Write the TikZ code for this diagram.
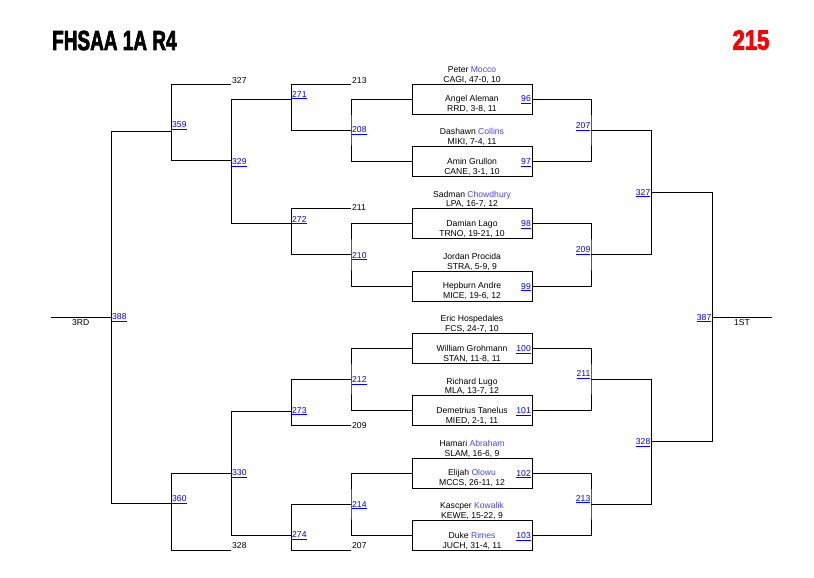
\documentclass[tikz,border=0pt]{standalone}
\usepackage{fontspec}
\setmainfont{Liberation Sans}
\newfontfamily\titlefont[UprightFont={* Bold},UprightFeatures={FakeBold=3}]{Liberation Sans}
\definecolor{linkblue}{RGB}{0,0,255}
\definecolor{nameblue}{RGB}{70,70,255}
\definecolor{titlered}{RGB}{255,0,0}
\newcommand\bl[1]{\textcolor{nameblue}{#1}}
\newcommand\bout[7]{%
  \node[box] (b#1) at (472,#2) {};
  \node[wtxt] (b#1ta) at (472,#2-26.5) {#3};
  \node[wtxt] (b#1tb) at (472,#2-16.8) {#4};
  \node[wtxt] (b#1ba) at (472,#2+2.8) {#5};
  \node[wtxt] (b#1bb) at (472,#2+12.8) {#6};
  \node[lnk,anchor=base east] (l#7) at (531,#2+3) {\underline{#7}};
}
\newcommand\lnkL[3]{\node[lnk,anchor=base west] (l#1) at (#2,#3+3) {\underline{#1}};}
\newcommand\lnkR[3]{\node[lnk,anchor=base east] (l#1) at (#2,#3+3) {\underline{#1}};}
\newcommand\plainL[4]{\node[num,anchor=base west] (#1) at (#2,#3+3) {#4};}
\tikzset{
  ln/.style={line width=0.9pt},
  box/.style={draw,line width=0.9pt,minimum width=120pt,minimum height=30pt,inner sep=0pt},
  wtxt/.style={font=\fontsize{8.6}{10}\selectfont,inner sep=0pt,anchor=base},
  num/.style={font=\fontsize{8.6}{10}\selectfont,inner sep=0pt},
  lnk/.style={num,text=linkblue},
}
\begin{document}
\begin{tikzpicture}[x=1pt,y=-1pt]
\fill[white] (0,0) rectangle (814,578);
\useasboundingbox (0,0) rectangle (814,578);

% title
\node[anchor=base west,inner sep=0pt,font=\titlefont\fontsize{27.5}{27.5}\selectfont] (title) at (52,50) {\scalebox{0.69}[1]{FHSAA 1A R4}};
\node[anchor=base east,inner sep=0pt,text=titlered,font=\titlefont\fontsize{27.5}{27.5}\selectfont] (weight) at (769.5,49.5) {\scalebox{0.80}[1]{215}};

% bouts
\bout{1}{99}{Peter \bl{Mocco}}{CAGI, 47-0, 10}{Angel Aleman}{RRD, 3-8, 11}{96}
\bout{2}{161.3}{Dashawn \bl{Collins}}{MIKI, 7-4, 11}{Amin Grullon}{CANE, 3-1, 10}{97}
\bout{3}{223.7}{Sadman \bl{Chowdhury}}{LPA, 16-7, 12}{Damian Lago}{TRNO, 19-21, 10}{98}
\bout{4}{286}{Jordan Procida}{STRA, 5-9, 9}{Hepburn Andre}{MICE, 19-6, 12}{99}
\bout{5}{348.3}{Eric Hospedales}{FCS, 24-7, 10}{William Grohmann}{STAN, 11-8, 11}{100}
\bout{6}{410.7}{Richard Lugo}{MLA, 13-7, 12}{Demetrius Tanelus}{MIED, 2-1, 11}{101}
\bout{7}{473}{Hamari \bl{Abraham}}{SLAM, 16-6, 9}{Elijah \bl{Olowu}}{MCCS, 26-11, 12}{102}
\bout{8}{535.3}{Kascper \bl{Kowalik}}{KEWE, 15-22, 9}{Duke \bl{Rimes}}{JUCH, 31-4, 11}{103}

% junction coordinates, right side
\coordinate (m207) at (591,130.5);
\coordinate (m209) at (591,254.5);
\coordinate (m211) at (591,379);
\coordinate (m213) at (591,504);
\coordinate (m327) at (651,192);
\coordinate (m328) at (651,441.5);
\coordinate (m387) at (712,317);
\coordinate (e1st) at (772,317);
% left side
\coordinate (m208) at (351,130);
\coordinate (m210) at (351,254.5);
\coordinate (m212) at (351,379);
\coordinate (m214) at (351,504);
\coordinate (m271) at (291,99);
\coordinate (m272) at (291,223);
\coordinate (m273) at (291,411);
\coordinate (m274) at (291,535);
\coordinate (m329) at (231,160.5);
\coordinate (m330) at (231,473);
\coordinate (m359) at (171,131);
\coordinate (m360) at (171,503.5);
\coordinate (m388) at (111,317);
\coordinate (e3rd) at (51,317);
\coordinate (t213) at (351,84.3);
\coordinate (t211) at (351,208.3);
\coordinate (t209) at (351,425.5);
\coordinate (t207) at (351,550);
\coordinate (t327) at (231,84.3);
\coordinate (t328) at (231,550);

% right connectors
\draw[ln] (b1.east) -| (m207) |- (b2.east);
\draw[ln] (b3.east) -| (m209) |- (b4.east);
\draw[ln] (b5.east) -| (m211) |- (b6.east);
\draw[ln] (b7.east) -| (m213) |- (b8.east);
\draw[ln] (m207) -| (m327);
\draw[ln] (m209) -| (m327);
\draw[ln] (m211) -| (m328);
\draw[ln] (m213) -| (m328);
\draw[ln] (m327) -| (m387);
\draw[ln] (m328) -| (m387);
\draw[ln] (m387) -- (e1st);

% left connectors
\draw[ln] (b1.west) -| (m208) |- (b2.west);
\draw[ln] (b3.west) -| (m210) |- (b4.west);
\draw[ln] (b5.west) -| (m212) |- (b6.west);
\draw[ln] (b7.west) -| (m214) |- (b8.west);
\draw[ln] (t213) -| (m271);
\draw[ln] (m208) -| (m271);
\draw[ln] (t211) -| (m272);
\draw[ln] (m210) -| (m272);
\draw[ln] (m212) -| (m273);
\draw[ln] (t209) -| (m273);
\draw[ln] (m214) -| (m274);
\draw[ln] (t207) -| (m274);
\draw[ln] (m271) -| (m329);
\draw[ln] (m272) -| (m329);
\draw[ln] (m273) -| (m330);
\draw[ln] (m274) -| (m330);
\draw[ln] (t327) -| (m359);
\draw[ln] (m329) -| (m359);
\draw[ln] (m330) -| (m360);
\draw[ln] (t328) -| (m360);
\draw[ln] (m359) -| (m388);
\draw[ln] (m360) -| (m388);
\draw[ln] (m388) -- (e3rd);

% plain numbers at free ends
\plainL{n327}{232}{80.7}{327}
\plainL{n213}{352}{80.7}{213}
\plainL{n211}{352}{207.7}{211}
\plainL{n209}{352}{425}{209}
\plainL{n328}{232}{545}{328}
\plainL{n207}{352}{545}{207}

% left match labels
\lnkL{359}{172}{124.7}
\lnkL{329}{232}{161.7}
\lnkL{271}{292}{94}
\lnkL{208}{352}{129.7}
\lnkL{272}{292}{219}
\lnkL{210}{352}{255}
\lnkL{388}{112}{316.7}
\lnkL{212}{352}{379.3}
\lnkL{273}{292}{410}
\lnkL{330}{232}{472.7}
\lnkL{360}{172}{498.3}
\lnkL{214}{352}{504}
\lnkL{274}{292}{534.3}

% right match labels
\lnkR{207}{590.5}{125.6}
\lnkR{209}{590.5}{249.7}
\lnkR{211}{590.5}{373.7}
\lnkR{213}{590.5}{498}
\lnkR{327}{650.5}{192}
\lnkR{328}{650.5}{441.3}
\lnkR{387}{711.5}{317}

% places
\node[num,anchor=base] (p3rd) at (80.7,325.7) {3RD};
\node[num,anchor=base] (p1st) at (742,325.7) {1ST};
\end{tikzpicture}
\end{document}
